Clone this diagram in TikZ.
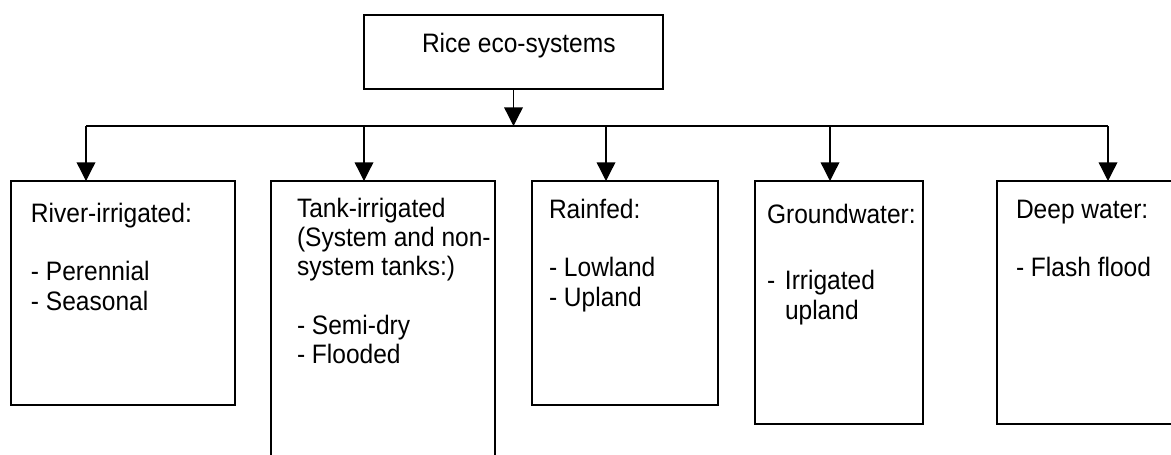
\documentclass[tikz,border=0pt]{standalone}
\usepackage{fontspec}
\setmainfont{Liberation Sans}[FakeStretch=0.92]
\usetikzlibrary{arrows.meta}
\newcommand{\boxtext}[1]{\begin{tabular}[t]{@{}l@{}}#1\end{tabular}}
\tikzset{
  boxnode/.style={draw, line width=1.1pt, rectangle, inner sep=0pt, outer sep=0pt},
  label text/.style={anchor=base west, inner sep=0pt, outer sep=0pt,
    font=\fontsize{20}{22}\selectfont},
  conn/.style={line width=1pt},
  arr/.style={conn, -{Triangle[width=14pt,length=14pt]}, shorten >=0pt}
}
\begin{document}
\begin{tikzpicture}[x=0.75pt,y=-0.75pt]
\useasboundingbox (0,0) rectangle (1171,454);
\begin{scope}
\clip (0,0) rectangle (1171,454);
% boxes
\node[boxnode, minimum width=224.25pt, minimum height=55.5pt] (top) at (513.5,52) {};
\node[boxnode, minimum width=168pt, minimum height=168pt] (river) at (123,293) {};
\node[boxnode, minimum width=168pt, minimum height=216.75pt] (tank) at (383,325.5) {};
\node[boxnode, minimum width=139.5pt, minimum height=168pt] (rain) at (625,293) {};
\node[boxnode, minimum width=126pt, minimum height=182.25pt] (ground) at (839,302.5) {};
\node[boxnode, minimum width=141pt, minimum height=182.25pt] (deep) at (1091,302.5) {};
\end{scope}
% texts
\node[label text] (ttop) at (422,52) {Rice eco-systems};
\node[label text] (triver) at (31,222) {\boxtext{River-irrigated:\\ \\- Perennial\\- Seasonal}};
\node[label text] (ttank) at (297,217) {\boxtext{Tank-irrigated\\(System and non-\\system tanks:)\\ \\- Semi-dry\\- Flooded}};
\node[label text] (train) at (549,218) {\boxtext{Rainfed:\\ \\- Lowland\\- Upland}};
\node[label text] (tground) at (767,223) {\boxtext{Groundwater:\\ \\[6pt]\makebox[13.5pt][l]{-}Irrigated\\\hspace*{13.5pt}upland}};
\node[label text] (tdeep) at (1016,218) {\boxtext{Deep water:\\ \\- Flash flood}};
% connectors
\coordinate (dA) at (86,126);
\coordinate (dB) at (364,126);
\coordinate (dC) at (606,126);
\coordinate (dD) at (830,126);
\coordinate (dE) at (1108,126);
\draw[arr] (top.south) -- (top.south |- dA);
\draw[conn] (dA) -- (dE);
\draw[arr] (dA) -- (dA |- river.north);
\draw[arr] (dB) -- (dB |- tank.north);
\draw[arr] (dC) -- (dC |- rain.north);
\draw[arr] (dD) -- (dD |- ground.north);
\draw[arr] (dE) -- (dE |- deep.north);
\end{tikzpicture}
\end{document}
